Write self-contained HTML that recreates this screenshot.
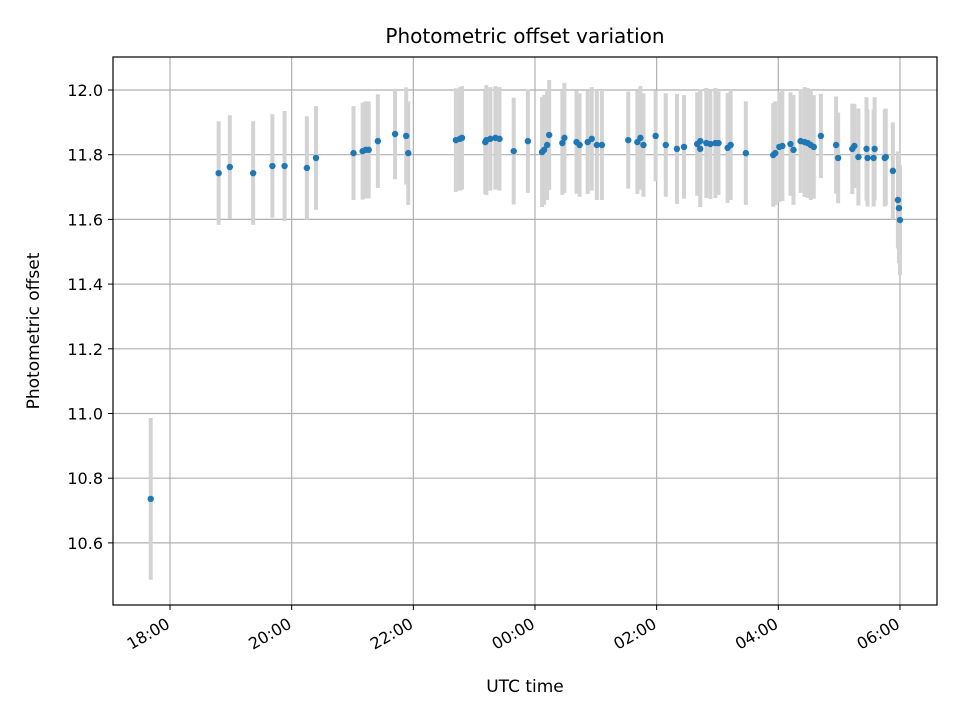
<!DOCTYPE html>
<html><head><meta charset="utf-8"><style>
body{margin:0;background:#fff;}
svg text{font-family:"DejaVu Sans","Liberation Sans",sans-serif;}
</style></head><body>
<svg id="chart" width="960" height="720" xmlns="http://www.w3.org/2000/svg">
<rect width="960" height="720" fill="#fff"/>
<text x="525" y="43" font-size="20" text-anchor="middle" fill="#000">Photometric offset variation</text>
<g id="grid"></g><g id="bars"></g><g id="pts"></g>
<rect x="113" y="57" width="824" height="548" fill="none" stroke="#000" stroke-width="1.2"/>
<g id="axes"></g>
<text x="525" y="692" font-size="17" text-anchor="middle">UTC time</text>
<text transform="translate(39,331) rotate(-90)" font-size="17" text-anchor="middle">Photometric offset</text>
</svg>
<script>
// minutes relative to 18:00 UTC
const times=[-19,48,59,82,101,113,135,144,181,190,193,196,205,222,233,235,282,286,288,311,312,316,321,325,339,353,367,369,372,374,387,389,401,404,412,416,421,426,452,461,464,467,479,489,500,507,520,523,523,529,533,538,541,550,553,568,595,597,601,604,612,615,622,626,629,632,635,642,657,659,673,675,679,687,688,694,695,705,706,713,718,719,720];
const values=[10.736,11.743,11.762,11.743,11.765,11.765,11.759,11.790,11.805,11.811,11.815,11.815,11.842,11.864,11.858,11.805,11.845,11.849,11.852,11.839,11.845,11.849,11.852,11.849,11.811,11.842,11.808,11.815,11.830,11.861,11.836,11.852,11.839,11.830,11.839,11.849,11.830,11.830,11.845,11.839,11.852,11.830,11.858,11.830,11.818,11.824,11.833,11.842,11.818,11.836,11.833,11.836,11.836,11.821,11.830,11.805,11.799,11.805,11.824,11.827,11.833,11.815,11.842,11.839,11.836,11.830,11.824,11.858,11.830,11.790,11.818,11.827,11.793,11.818,11.790,11.790,11.818,11.790,11.793,11.750,11.660,11.635,11.598];
const errors=[0.25,0.16,0.16,0.16,0.16,0.17,0.16,0.16,0.145,0.15,0.15,0.15,0.145,0.14,0.15,0.16,0.16,0.16,0.16,0.16,0.17,0.16,0.16,0.16,0.165,0.16,0.17,0.17,0.17,0.17,0.16,0.17,0.16,0.16,0.16,0.16,0.17,0.17,0.15,0.16,0.16,0.16,0.14,0.16,0.17,0.16,0.16,0.16,0.18,0.17,0.17,0.17,0.16,0.17,0.17,0.16,0.16,0.16,0.17,0.17,0.16,0.17,0.16,0.17,0.17,0.17,0.16,0.13,0.15,0.14,0.14,0.13,0.15,0.16,0.15,0.15,0.16,0.15,0.15,0.15,0.15,0.17,0.17];
const yTicks=[10.6,10.8,11.0,11.2,11.4,11.6,11.8,12.0];
const xTickMins=[0,120,240,360,480,600,720];
const xTickLabels=["18:00","20:00","22:00","00:00","02:00","04:00","06:00"];
const X=m=>170+m*60.83/60;
const Y=v=>90+(12-v)*323.5;
const NS="http://www.w3.org/2000/svg";
function mk(p,tag,at){const e=document.createElementNS(NS,tag);for(const k in at)e.setAttribute(k,at[k]);document.getElementById(p).appendChild(e);return e;}
yTicks.forEach(t=>{const y=Y(t);
 const g=mk('grid','line',{x1:113,x2:937,y1:y,y2:y,stroke:'#b0b0b0','stroke-width':1.2});
 
 
 mk('axes','line',{x1:108,x2:113,y1:y,y2:y,stroke:'#000'});
 const tx=mk('axes','text',{x:103,y:y+6,'font-size':16,'text-anchor':'end'});tx.textContent=t.toFixed(1);
 
 
});
xTickMins.forEach((m,i)=>{const x=X(m);
 const g=mk('grid','line',{x1:x,x2:x,y1:57,y2:605,stroke:'#b0b0b0','stroke-width':1.2});
 
 
 mk('axes','line',{x1:x,x2:x,y1:605,y2:610,stroke:'#000'});
 const tx=mk('axes','text',{'font-size':16,'text-anchor':'end',transform:`translate(${x+1},${627}) rotate(-30)`});tx.textContent=xTickLabels[i];
 
 
});
times.forEach((m,i)=>{const x=X(m);
 const b=mk('bars','line',{x1:x,x2:x,y1:Y(values[i]+errors[i]),y2:Y(values[i]-errors[i]),stroke:'#d3d3d3','stroke-width':4});
 
 
 const c=mk('pts','circle',{cx:x,cy:Y(values[i]),r:3.2,fill:'#1f77b4'});
 
 
});
</script>
</body></html>
